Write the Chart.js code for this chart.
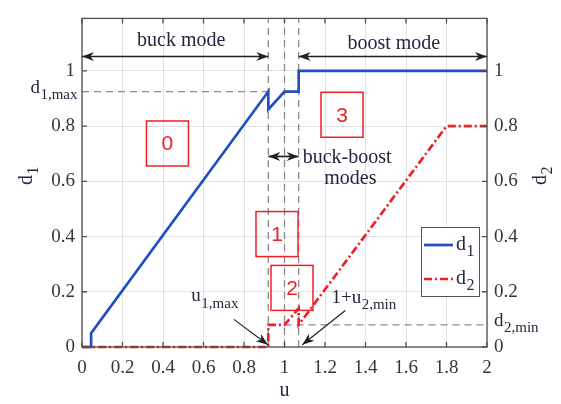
<!DOCTYPE html>
<html>
<head>
<meta charset="utf-8">
<script src="https://cdn.jsdelivr.net/npm/chart.js@4.4.1/dist/chart.umd.min.js"></script>
<style>
  html, body { margin: 0; padding: 0; background: #fff; }
  #wrap { width: 561px; height: 404px; position: relative; }
</style>
</head>
<body>
<div id="wrap"><canvas id="c" width="561" height="404"></canvas></div>
<script>
// Duty cycles d1 (buck leg) and d2 (boost leg) versus voltage gain u
const d1U = [0, 0.045, 0.045, 0.92, 0.92, 1.0, 1.07, 1.07, 2];
const d1V = [0, 0, 0.05, 0.925, 0.86, 0.925, 0.925, 1, 1];
const d2U = [0, 0.92, 0.92, 1.0, 1.07, 1.07, 1.8, 2];
const d2V = [0, 0, 0.08, 0.08, 0.14, 0.08, 0.8, 0.8];

// Limits
const d1Max = 0.925;
const d2Min = 0.08;
const u1Max = 0.92;
const uUnity = 1.0;
const u2Edge = 1.07;   // 1 + u2,min

const xTickValues = [0, 0.2, 0.4, 0.6, 0.8, 1, 1.2, 1.4, 1.6, 1.8, 2];
const yTickValues = [0, 0.2, 0.4, 0.6, 0.8, 1];

const SERIF = "'Liberation Serif', 'DejaVu Serif', serif";
const INK = '#26263e';
const AXIS = '#5a4c4c';
const BLUE = '#1f4fc0';
const RED = '#ec2128';
const GUIDE = '#8a8a8a';

const pts = (xs, ys) => xs.map((x, i) => ({ x, y: ys[i] }));
const guideStyle = {
  borderColor: GUIDE, borderWidth: 1.3, borderDash: [7, 5],
  pointRadius: 0, fill: false, tension: 0, clip: false
};

const datasets = [
  { label: 'd2', data: pts(d2U, d2V), borderColor: RED, borderWidth: 2.7,
    borderDash: [8, 3, 2, 3], pointRadius: 0, tension: 0, clip: 3 },
  { label: 'd1', data: pts(d1U, d1V), borderColor: BLUE, borderWidth: 2.7,
    pointRadius: 0, tension: 0, clip: 3 },
  Object.assign({ label: 'd1max', data: pts([0, u1Max], [d1Max, d1Max]) }, guideStyle),
  Object.assign({ label: 'd2min', data: pts([uUnity, 2], [d2Min, d2Min]) }, guideStyle),
  Object.assign({ label: 'v1', data: pts([u1Max, u1Max], [0, 1.19]) }, guideStyle),
  Object.assign({ label: 'v2', data: pts([uUnity, uUnity], [0, 1.19]) }, guideStyle),
  Object.assign({ label: 'v3', data: pts([u2Edge, u2Edge], [0, 1.19]) }, guideStyle)
];

// text with a subscript, anchored at the left of the main glyphs
function subText(ctx, main, sub, x, y, size, color, align) {
  ctx.save();
  ctx.fillStyle = color;
  ctx.textBaseline = 'alphabetic';
  ctx.font = size + 'px ' + SERIF;
  const wm = ctx.measureText(main).width;
  ctx.font = Math.round(size * 0.8) + 'px ' + SERIF;
  const ws = ctx.measureText(sub).width;
  let x0 = x;
  if (align === 'right') x0 = x - wm - ws;
  if (align === 'center') x0 = x - (wm + ws) / 2;
  ctx.font = size + 'px ' + SERIF;
  ctx.textAlign = 'left';
  ctx.fillText(main, x0, y);
  ctx.font = Math.round(size * 0.8) + 'px ' + SERIF;
  ctx.fillText(sub, x0 + wm + 0.5, y + size * 0.32);
  ctx.restore();
}

function arrowHead(ctx, x1, y1, x2, y2, len, wid) {
  const a = Math.atan2(y2 - y1, x2 - x1);
  ctx.beginPath();
  ctx.moveTo(x2, y2);
  ctx.lineTo(x2 - len * Math.cos(a) + wid * Math.sin(a), y2 - len * Math.sin(a) - wid * Math.cos(a));
  ctx.lineTo(x2 - len * 0.7 * Math.cos(a), y2 - len * 0.7 * Math.sin(a));
  ctx.lineTo(x2 - len * Math.cos(a) - wid * Math.sin(a), y2 - len * Math.sin(a) + wid * Math.cos(a));
  ctx.closePath();
  ctx.fill();
}

function arrow(ctx, x1, y1, x2, y2, both) {
  ctx.beginPath();
  ctx.moveTo(x1, y1);
  ctx.lineTo(x2, y2);
  ctx.stroke();
  arrowHead(ctx, x1, y1, x2, y2, 12, 4.5);
  if (both) arrowHead(ctx, x2, y2, x1, y1, 12, 4.5);
}

const decor = {
  id: 'decor',
  afterDraw(chart) {
    const ctx = chart.ctx;
    const xs = chart.scales.x, ys = chart.scales.y;
    const a = chart.chartArea;
    const X = v => xs.getPixelForValue(v);
    const Y = v => ys.getPixelForValue(v);

    // frame and inward ticks
    ctx.save();
    ctx.strokeStyle = AXIS;
    ctx.lineWidth = 1.3;
    ctx.strokeRect(a.left, a.top, a.right - a.left, a.bottom - a.top);
    ctx.beginPath();
    xTickValues.forEach(v => {
      const px = X(v);
      ctx.moveTo(px, a.bottom); ctx.lineTo(px, a.bottom - 5);
      ctx.moveTo(px, a.top); ctx.lineTo(px, a.top + 5);
    });
    yTickValues.forEach(v => {
      const py = Y(v);
      ctx.moveTo(a.left, py); ctx.lineTo(a.left + 5, py);
      ctx.moveTo(a.right, py); ctx.lineTo(a.right - 5, py);
    });
    ctx.stroke();
    ctx.restore();

    // extra axis labels for the limits
    subText(ctx, 'd', '1,max', a.left - 5, Y(d1Max) + 1, 19, INK, 'right');
    subText(ctx, 'd', '2,min', a.right + 7, Y(d2Min) + 1, 19, INK, 'left');

    // axis titles
    ctx.save();
    ctx.fillStyle = INK;
    ctx.font = '20px ' + SERIF;
    ctx.textAlign = 'center';
    ctx.textBaseline = 'middle';
    ctx.fillText('u', (a.left + a.right) / 2, 391);
    ctx.restore();
    [[26, 'd', '1'], [540, 'd', '2']].forEach(([cx, m, s]) => {
      ctx.save();
      ctx.translate(cx, 176);
      ctx.rotate(-Math.PI / 2);
      subText(ctx, m, s, 0, 6, 20, INK, 'center');
      ctx.restore();
    });

    // mode arrows and captions
    ctx.save();
    ctx.strokeStyle = '#222';
    ctx.fillStyle = '#222';
    ctx.lineWidth = 1.7;
    arrow(ctx, X(0), Y(1.052), X(u1Max), Y(1.052), true);
    arrow(ctx, X(u2Edge), Y(1.052), X(2), Y(1.052), true);
    arrow(ctx, X(u1Max), Y(0.69), X(u2Edge), Y(0.69), true);
    ctx.lineWidth = 1.2;
    arrow(ctx, X(0.75), Y(0.10), X(0.918), Y(0.008), false);
    arrow(ctx, X(1.30), Y(0.132), X(1.088), Y(0.008), false);
    ctx.fillStyle = INK;
    ctx.font = '20px ' + SERIF;
    ctx.textAlign = 'center';
    ctx.textBaseline = 'middle';
    ctx.fillText('buck mode', X(0.49), Y(1.11));
    ctx.fillText('boost mode', X(1.54), Y(1.10));
    ctx.textAlign = 'left';
    ctx.fillText('buck-boost', X(1.09), Y(0.685));
    ctx.textAlign = 'center';
    ctx.fillText('modes', X(1.325), Y(0.61));
    ctx.restore();
    subText(ctx, 'u', '1,max', X(0.54), Y(0.165), 19, INK, 'left');
    subText(ctx, '1+u', '2,min', X(1.232), Y(0.16), 19, INK, 'left');

    // numbered region boxes
    const boxes = [['0', 0.422, 0.737], ['3', 1.284, 0.841], ['1', 0.963, 0.409], ['2', 1.037, 0.214]];
    ctx.save();
    boxes.forEach(([t, u, d]) => {
      const cx = X(u), cy = Y(d);
      ctx.strokeStyle = RED;
      ctx.lineWidth = 1.5;
      ctx.strokeRect(cx - 21, cy - 22.5, 42, 45);
      ctx.fillStyle = RED;
      ctx.font = "21px 'Liberation Sans', Arial, sans-serif";
      ctx.textAlign = 'center';
      ctx.textBaseline = 'middle';
      ctx.fillText(t, cx, cy + 1);
    });
    ctx.restore();

    // legend
    ctx.save();
    const lx = 421, ly = 227, lw = 58, lh = 69;
    ctx.fillStyle = '#fff';
    ctx.fillRect(lx, ly, lw, lh);
    ctx.strokeStyle = '#555';
    ctx.lineWidth = 1;
    ctx.strokeRect(lx + 0.5, ly + 0.5, lw, lh);
    ctx.lineWidth = 2.7;
    ctx.strokeStyle = BLUE;
    ctx.beginPath(); ctx.moveTo(lx + 3, ly + 18); ctx.lineTo(lx + 32, ly + 18); ctx.stroke();
    ctx.strokeStyle = RED;
    ctx.setLineDash([8, 3, 2, 3]);
    ctx.beginPath(); ctx.moveTo(lx + 3, ly + 52); ctx.lineTo(lx + 32, ly + 52); ctx.stroke();
    ctx.restore();
    subText(ctx, 'd', '1', lx + 35, ly + 23, 20, INK, 'left');
    subText(ctx, 'd', '2', lx + 35, ly + 57, 20, INK, 'left');
  }
};

const tickFmt = v => String(+v.toFixed(1));

new Chart(document.getElementById('c'), {
  type: 'line',
  data: { datasets },
  options: {
    responsive: false,
    animation: false,
    events: [],
    layout: { padding: { top: 5, left: 0, right: 0, bottom: 0 } },
    plugins: { legend: { display: false }, tooltip: { enabled: false } },
    scales: {
      x: {
        type: 'linear', min: 0, max: 2,
        afterFit: s => { s.height = 57; },
        ticks: { stepSize: 0.2, callback: tickFmt, color: '#3a3434', padding: 10,
                 font: { family: SERIF, size: 19 }, maxRotation: 0, includeBounds: false },
        grid: { color: '#e2e2e2', drawTicks: false, lineWidth: 1 },
        border: { display: false }
      },
      y: {
        position: 'left', min: 0, max: 1.19,
        afterFit: s => { s.width = 82; },
        ticks: { stepSize: 0.2, callback: tickFmt, color: '#3a3434', padding: 7,
                 font: { family: SERIF, size: 19 }, includeBounds: false },
        grid: { color: '#e2e2e2', drawTicks: false, lineWidth: 1 },
        border: { display: false }
      },
      y2: {
        position: 'right', min: 0, max: 1.19,
        afterFit: s => { s.width = 74; },
        ticks: { stepSize: 0.2, callback: tickFmt, color: '#3a3434', padding: 7,
                 font: { family: SERIF, size: 19 }, includeBounds: false },
        grid: { display: false, drawTicks: false },
        border: { display: false }
      }
    }
  },
  plugins: [decor]
});
</script>
</body>
</html>
